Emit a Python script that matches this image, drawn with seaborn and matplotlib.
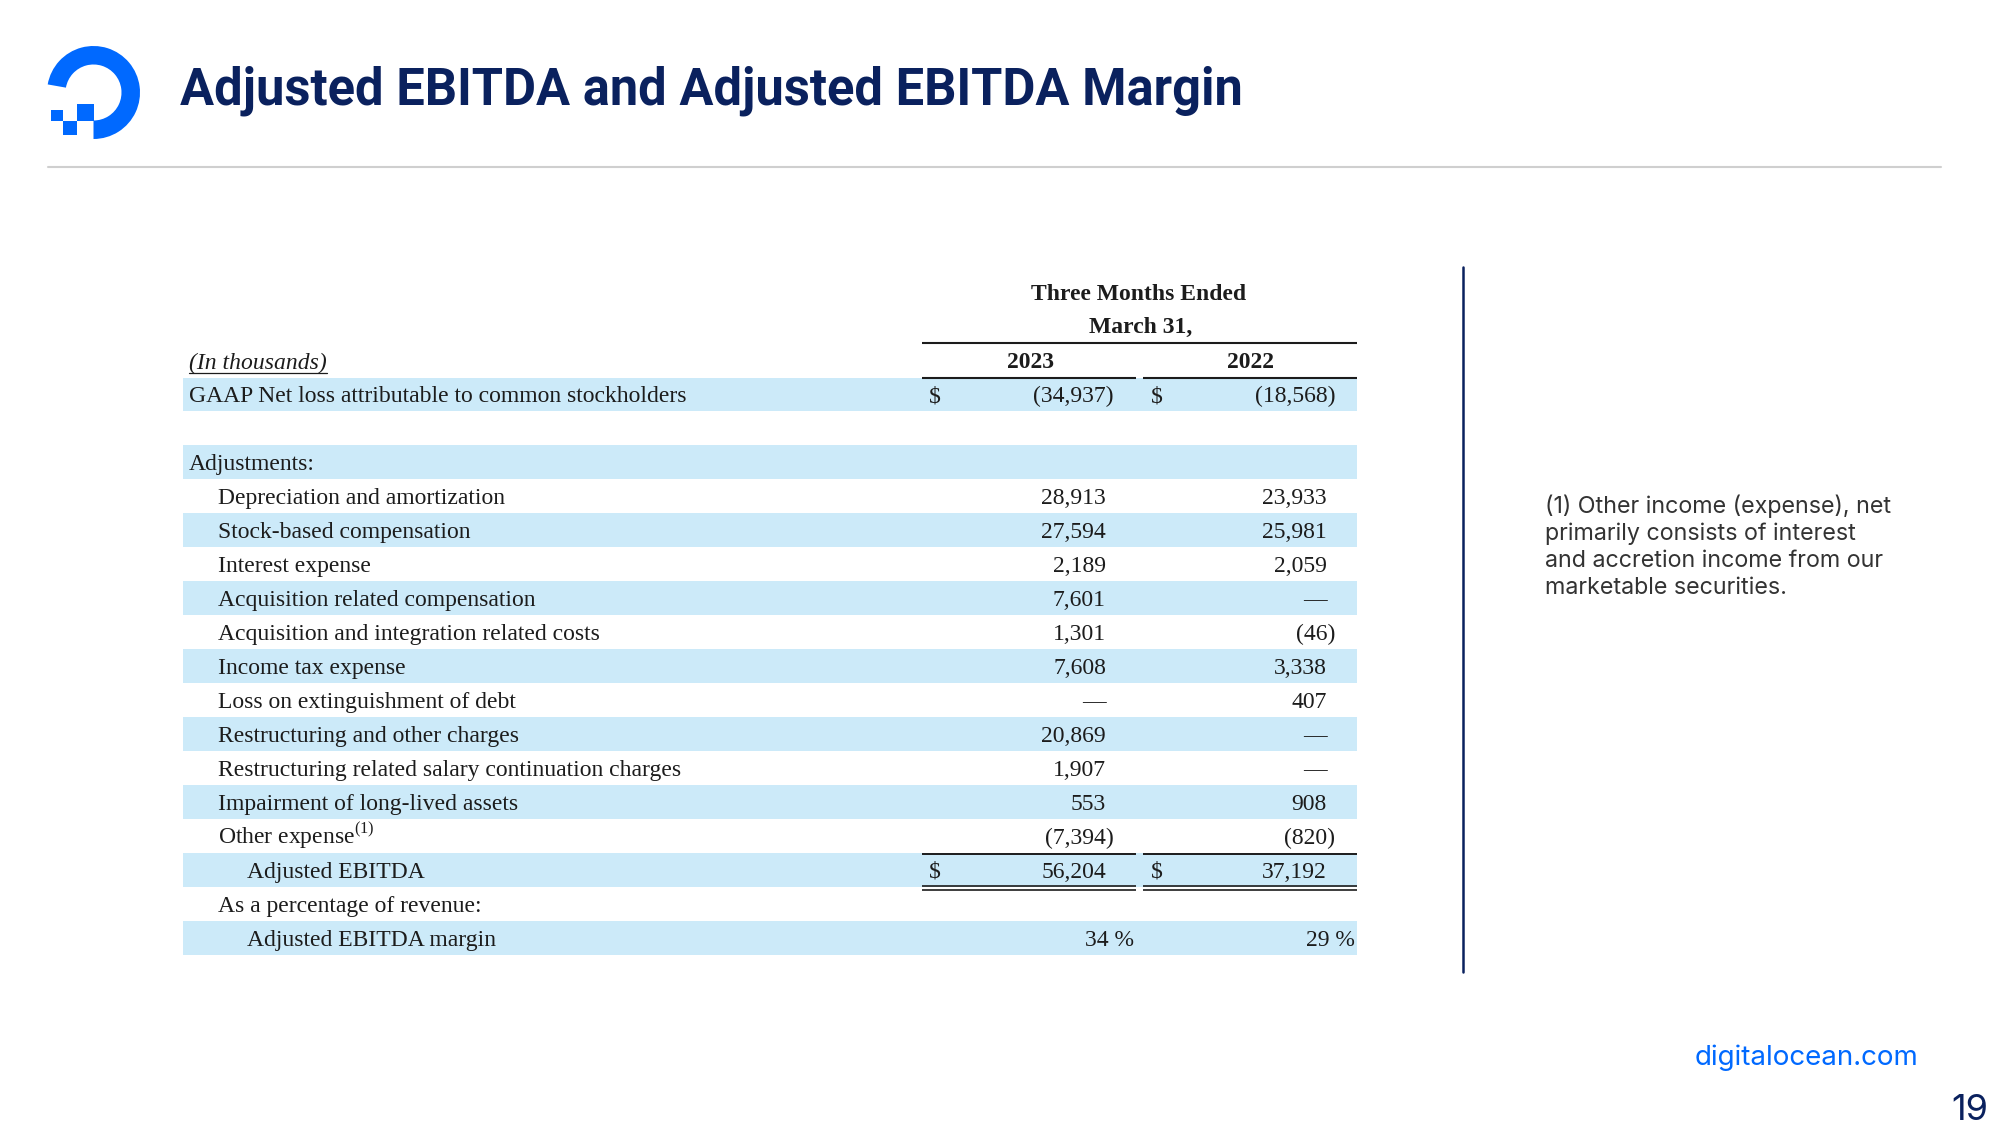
import numpy as np
import pandas as pd
import seaborn as sns
import matplotlib
matplotlib.use('Agg')
from matplotlib import pyplot as plt
from matplotlib.patches import Wedge, Rectangle
from matplotlib.transforms import blended_transform_factory

# ---- slide content ----
title = 'Adjusted EBITDA and Adjusted EBITDA Margin'
period_header = ['Three Months Ended', 'March 31,']
years = ['2023', '2022']
units_label = '(In thousands)'

row_labels = [
    'GAAP Net loss attributable to common stockholders',
    '',
    'Adjustments:',
    'Depreciation and amortization',
    'Stock-based compensation',
    'Interest expense',
    'Acquisition related compensation',
    'Acquisition and integration related costs',
    'Income tax expense',
    'Loss on extinguishment of debt',
    'Restructuring and other charges',
    'Restructuring related salary continuation charges',
    'Impairment of long-lived assets',
    'Other expense$^{(1)}$',
    'Adjusted EBITDA',
    'As a percentage of revenue:',
    'Adjusted EBITDA margin',
]
row_level = [0, 0, 0, 1, 1, 1, 1, 1, 1, 1, 1, 1, 1, 1, 2, 1, 2]

# None = empty cell, 0 = shown as a dash
values_2023 = [-34937, None, None, 28913, 27594, 2189, 7601, 1301, 7608, 0,
               20869, 1907, 553, -7394, 56204, None, 34]
values_2022 = [-18568, None, None, 23933, 25981, 2059, 0, -46, 3338, 407,
               0, 0, 908, -820, 37192, None, 29]
dollar_rows = [0, 14]
percent_rows = [16]

footnote_lines = ['(1) Other income (expense), net',
                  'primarily consists of interest',
                  'and accretion income from our',
                  'marketable securities.']
site = 'digitalocean.com'
page = '19'

# ---- colours ----
DO_BLUE = '#0069FF'
NAVY = '#0A215E'
BAND = '#CCEAF9'
INK = '#1C1C1C'

sns.set_theme(style='white')
plt.rcParams['font.family'] = ['Liberation Serif', 'DejaVu Serif']
plt.rcParams['mathtext.fontset'] = 'custom'
plt.rcParams['mathtext.rm'] = 'Liberation Serif'

W, H = 2000, 1125
fig = plt.figure(figsize=(20, 11.25), dpi=100, facecolor='white')

# table band axes: one categorical row per line of the statement
row0_y, row_h = 394.5, 33.97
band_x0, band_x1 = 183, 1357
n_rows = len(row_labels)
top = row0_y - row_h / 2
bottom = top + n_rows * row_h
tax = fig.add_axes([band_x0 / W, 1 - bottom / H, (band_x1 - band_x0) / W, (bottom - top) / H])
tax.set_zorder(1)

table = pd.DataFrame({'row': range(n_rows),
                      'band': [1 if i % 2 == 0 else 0 for i in range(n_rows)]})
sns.barplot(data=table, x='band', y='row', orient='h', color=BAND, saturation=1,
            width=1, errorbar=None, linewidth=0, ax=tax)
tax.set_xlim(0, 1)
tax.set_ylim(n_rows - 0.5, -0.5)
tax.axis('off')

# slide axes in pixel units, drawn over the bands
bg = fig.add_axes([0, 0, 1, 1])
bg.set_xlim(0, W)
bg.set_ylim(H, 0)
bg.axis('off')
bg.patch.set_visible(False)
bg.set_zorder(2)

rt = blended_transform_factory(bg.transData, tax.transData)
fs = 17.0
base_off = 7.8 / row_h
label_x = [189, 218, 247]

for i, lab in enumerate(row_labels):
    if lab:
        tax.text(label_x[row_level[i]], i + base_off, lab, transform=rt, fontsize=fs,
                 color=INK, va='baseline', ha='left')


def fmt(v):
    if v == 0:
        return '\u2014'
    if v < 0:
        return f'({-v:,})'
    return f'{v:,}'


cols = [
    # values, digit edge, paren edge, pct edge, dollar x
    (values_2023, 1106, 1114, 1134, 929),
    (values_2022, 1327, 1335, 1355, 1151),
]
for vals, xd, xp, xpc, xs in cols:
    for i, v in enumerate(vals):
        if v is None:
            continue
        if i in percent_rows:
            s, x = f'{v} %', xpc
        elif v < 0:
            s, x = fmt(v), xp
        else:
            s, x = fmt(v), xd
        tax.text(x, i + base_off, s, transform=rt, fontsize=fs, color=INK,
                 va='baseline', ha='right')
        if i in dollar_rows:
            tax.text(xs, i + base_off, '$', transform=rt, fontsize=fs, color=INK,
                     va='baseline', ha='left')

# column headers
bg.text(1139, 300, period_header[0], fontsize=fs, weight='bold', color=INK, ha='center', va='baseline')
bg.text(1141, 333, period_header[1], fontsize=fs, weight='bold', color=INK, ha='center', va='baseline')
bg.text(1030, 368, years[0], fontsize=fs, weight='bold', color=INK, ha='center', va='baseline')
bg.text(1250, 368, years[1], fontsize=fs, weight='bold', color=INK, ha='center', va='baseline')
units = bg.text(189, 369, units_label, fontsize=fs, style='italic', color=INK, ha='left', va='baseline')

renderer = fig.canvas.get_renderer()
ub = units.get_window_extent(renderer)
bg.plot([ub.x0, ub.x1], [372.5, 372.5], color=INK, lw=0.9)

seg_a = [922, 1136]
seg_b = [1143, 1357]
bg.plot([922, 1357], [343, 343], color=INK, lw=1.5, solid_capstyle='butt')
for y, lw in [(377.5, 1.5), (853.5, 1.4), (885.5, 1.2), (889.5, 1.2)]:
    bg.plot(seg_a, [y, y], color=INK, lw=lw, solid_capstyle='butt')
    bg.plot(seg_b, [y, y], color=INK, lw=lw, solid_capstyle='butt')

# logo
cx, cy, R = 93.5, 92.5, 46.5
bg.add_patch(Wedge((cx, cy), R, -170, 90, width=18.5, color=DO_BLUE, lw=0))
bg.add_patch(Rectangle((76.5, 103.5), 17, 17, color=DO_BLUE, lw=0))
bg.add_patch(Rectangle((62.5, 120.5), 14, 14, color=DO_BLUE, lw=0))
bg.add_patch(Rectangle((51, 109.5), 11.5, 11, color=DO_BLUE, lw=0))


def fit_width(txt, target):
    w = txt.get_window_extent(fig.canvas.get_renderer()).width
    txt.set_fontsize(txt.get_fontsize() * target / w)


t = bg.text(180, 104, title, family=['Roboto', 'DejaVu Sans'], weight='bold', color=NAVY,
            fontsize=35, ha='left', va='baseline')
fit_width(t, 1064)

bg.plot([48, 1941], [167, 167], color='#CFCFCF', lw=1.5)
bg.plot([1463, 1463], [267, 972], color=NAVY, lw=1.8)

first = bg.text(1545, 513, footnote_lines[0], family=['Inter', 'DejaVu Sans'], fontsize=14.5,
                color='#333333', ha='left', va='baseline')
fit_width(first, 347)
for k, line in enumerate(footnote_lines[1:], start=1):
    bg.text(1545, 513 + 27 * k, line, family=['Inter', 'DejaVu Sans'], fontsize=first.get_fontsize(),
            color='#333333', ha='left', va='baseline')

st = bg.text(1695, 1065, site, family=['Inter', 'DejaVu Sans'], fontsize=19, color=DO_BLUE,
             ha='left', va='baseline')
fit_width(st, 224)
bg.text(1951, 1120, page, family=['Inter', 'DejaVu Sans'], fontsize=26, color=NAVY,
        ha='left', va='baseline')

fig.savefig('out.png', dpi=100, facecolor='white')
